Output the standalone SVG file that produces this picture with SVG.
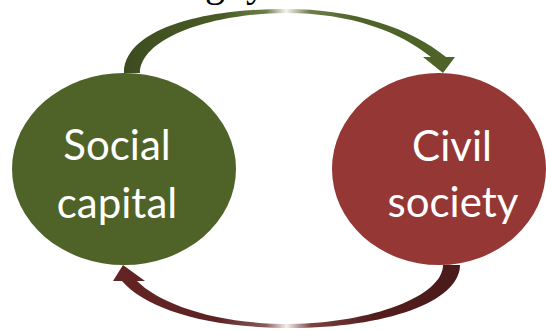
<svg xmlns="http://www.w3.org/2000/svg" width="546" height="331" viewBox="0 0 546 331">
  <style>
    .lbl { font-family: Lato, "Open Sans", "Liberation Sans", sans-serif; font-size: 42px; fill: #FFFFFF; text-anchor: middle; }
    .top { font-family: "Liberation Serif", serif; font-size: 40px; fill: #000000; }
  </style>
  <defs>
    <linearGradient id="gTop" gradientUnits="userSpaceOnUse" x1="124" y1="0" x2="455" y2="0">
      <stop offset="0" stop-color="#3D4C1F"/>
      <stop offset="0.3" stop-color="#4A5C25"/>
      <stop offset="0.43" stop-color="#6F7F4C"/>
      <stop offset="0.49" stop-color="#F4F5EF"/>
      <stop offset="0.56" stop-color="#6F7F4C"/>
      <stop offset="0.7" stop-color="#4F6228"/>
      <stop offset="1" stop-color="#4F6228"/>
    </linearGradient>
    <linearGradient id="gBot" gradientUnits="userSpaceOnUse" x1="113" y1="0" x2="460" y2="0">
      <stop offset="0" stop-color="#632423"/>
      <stop offset="0.3" stop-color="#5E2222"/>
      <stop offset="0.44" stop-color="#8A5A59"/>
      <stop offset="0.5" stop-color="#F4EEEE"/>
      <stop offset="0.57" stop-color="#7A4442"/>
      <stop offset="0.75" stop-color="#541D1D"/>
      <stop offset="1" stop-color="#4A1A1A"/>
    </linearGradient>
  </defs>

  <text class="top" x="205 246" y="-4">gy</text>

  <g id="connectors">
    <path id="arrow-top" fill="url(#gTop)" d="M124,73 C124,32 195,9 285,9 C355,9 410,28 446,57 L455,57 L443,73 L423,57 L431,57 C400,32 352,13 285,13 C205,14 140,40 140,73 Z"/>
    <path id="arrow-bottom" fill="url(#gBot)" d="M460,265 C460,302 385,328 290,328 C205,328 145,308 122,281 L113,281 L123,265 L145,281 L137,281 C160,304 215,324 290,324 C372,323 443,296 443,265 Z"/>
  </g>

  <g id="social-capital">
    <ellipse cx="124" cy="169" rx="112" ry="96" fill="#4F6228"/>
    <text class="lbl" x="117" y="160">Social</text>
    <text class="lbl" x="117" y="218">capital</text>
  </g>

  <g id="civil-society">
    <ellipse cx="439" cy="169" rx="107" ry="96" fill="#953735"/>
    <text class="lbl" x="452" y="161">Civil</text>
    <text class="lbl" x="453" y="217">society</text>
  </g>
</svg>
